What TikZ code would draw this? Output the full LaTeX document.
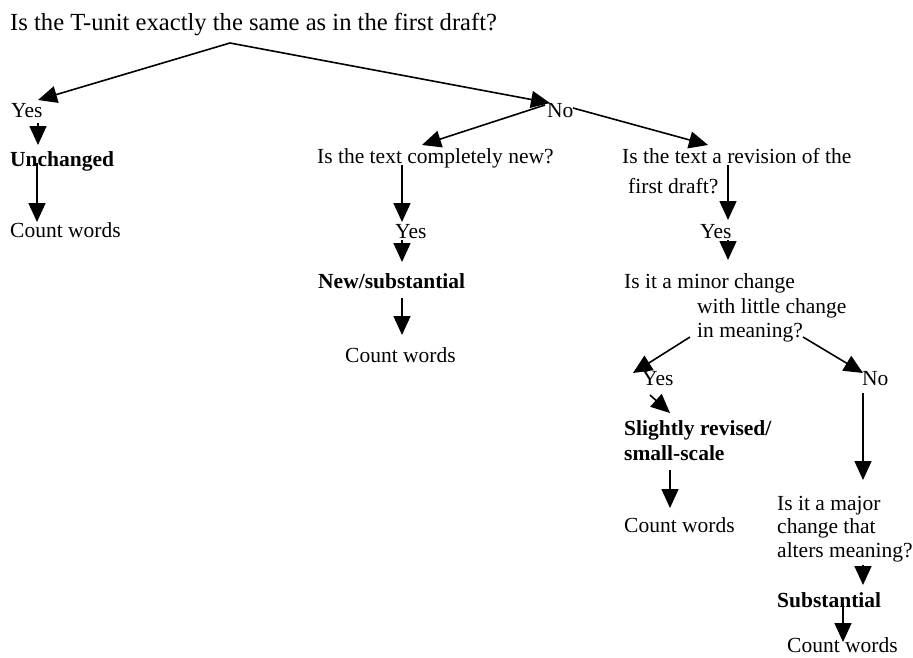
\documentclass[tikz,border=0pt]{standalone}
\usepackage{fontspec}
\setmainfont{Liberation Serif}
\usetikzlibrary{arrows.meta}
\begin{document}
\begin{tikzpicture}[x=1pt,y=-1pt,
  txt/.style={anchor=base west, inner sep=0pt, font=\fontsize{21.5}{25}\selectfont},
  btxt/.style={anchor=base west, inner sep=0pt, font=\fontsize{21.5}{25}\selectfont\bfseries},
  ttl/.style={anchor=base west, inner sep=0pt, font=\fontsize{24.6}{28}\selectfont},
  arr/.style={line width=1.6pt, -{Triangle[length=19pt,width=17pt]}},
  ln/.style={line width=1.6pt}]
\useasboundingbox (0,0) rectangle (913,657);
% texts
\node[ttl] (title) at (10,30) {Is the T-unit exactly the same as in the first draft?};
\node[txt] (yes1) at (11,117) {Yes};
\node[btxt] (unch) at (10,166) {Unchanged};
\node[txt] (cw1) at (10,237) {Count words};
\node[txt] (no1) at (547,117) {No};
\node[txt] (new) at (317,163) {Is the text completely new?};
\node[txt] (yes2) at (395,238) {Yes};
\node[btxt] (newsub) at (318,288) {New/substantial};
\node[txt] (cw2) at (345,362) {Count words};
\node[txt] (rev1) at (622,163) {Is the text a revision of the};
\node[txt] (rev2) at (628,193) {first draft?};
\node[txt] (yes3) at (700,238) {Yes};
\node[txt] (min1) at (624,288) {Is it a minor change};
\node[txt] (min2) at (697,313) {with little change};
\node[txt] (min3) at (697,337) {in meaning?};
\node[txt] (yes4) at (642,385) {Yes};
\node[txt] (no2) at (862,385) {No};
\node[btxt] (sl1) at (624,435) {Slightly revised/};
\node[btxt] (sl2) at (624,460) {small-scale};
\node[txt] (cw3) at (624,532) {Count words};
\node[txt] (maj1) at (777,510) {Is it a major};
\node[txt] (maj2) at (777,533) {change that};
\node[txt] (maj3) at (777,557) {alters meaning?};
\node[btxt] (subst) at (777,607) {Substantial};
\node[txt] (cw4) at (787,652) {Count words};
% connector end points
\coordinate (apex) at (230,43);
\coordinate (yes1tip) at (38,100);
\coordinate (no1tip) at (550,103);
\coordinate (no1l) at (545,105);
\coordinate (no1r) at (573,108);
\coordinate (newtip) at (422,145);
\coordinate (revtip) at (708,145);
% connectors
\draw[arr] (apex) -- (yes1tip);
\draw[arr] (apex) -- (no1tip);
\draw[arr] (38,123) -- (38,145);
\draw[arr] (37,163) -- (37,222);
\draw[arr] (no1l) -- (newtip);
\draw[arr] (no1r) -- (revtip);
\draw[arr] (402,165) -- (402,222);
\draw[arr] (402,240) -- (402,262);
\draw[arr] (402,298) -- (402,335);
\draw[arr] (728,165) -- (728,220);
\draw[arr] (728,240) -- (728,260);
\draw[arr] (690,337) -- (633,373);
\draw[arr] (803,337) -- (863,373);
\draw[arr] (650,395) -- (670,413);
\draw[arr] (670,470) -- (670,508);
\draw[arr] (863,393) -- (863,480);
\draw[arr] (863,565) -- (863,585);
\draw[arr] (843,603) -- (843,642);
\end{tikzpicture}
\end{document}
